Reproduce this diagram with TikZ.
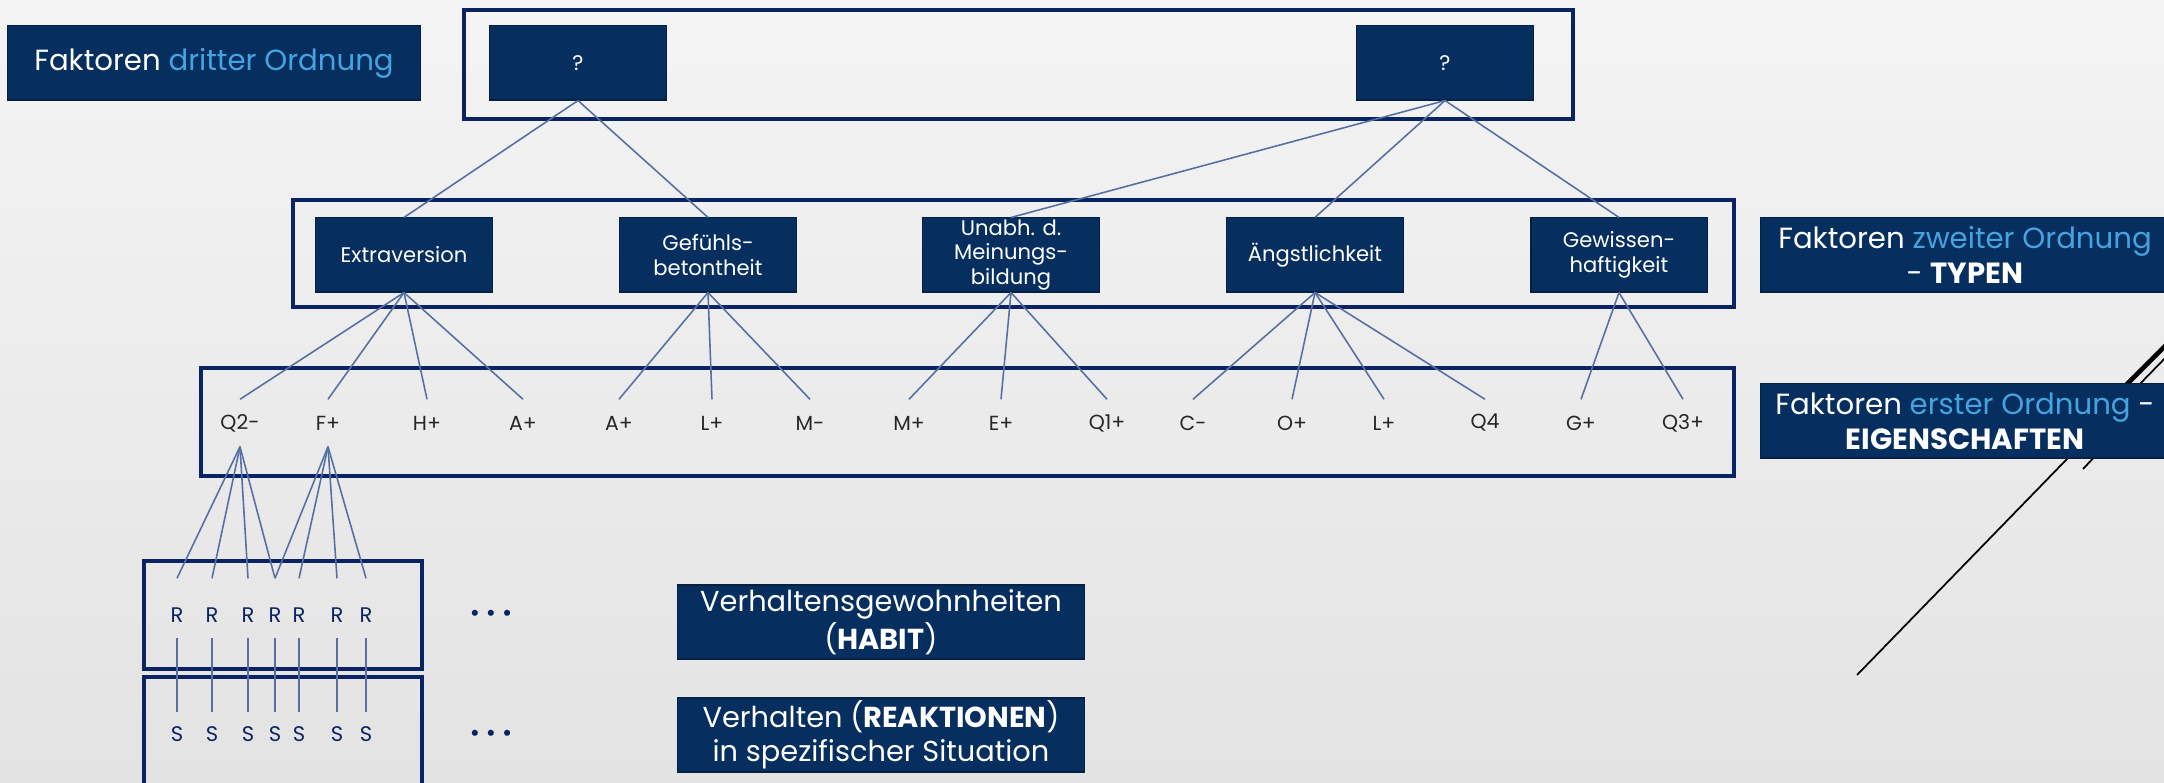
\documentclass[tikz,border=0pt]{standalone}
\usepackage{fontspec}
\setmainfont{Poppins}
\definecolor{boxblue}{HTML}{062E5E}
\definecolor{frameblue}{HTML}{0A2463}
\definecolor{lineblue}{HTML}{5571A3}
\definecolor{lightblue}{HTML}{45A4E0}
\begin{document}
\begin{tikzpicture}[x=0.01cm, y=-0.01cm,
    darkbox/.style={fill=boxblue, draw=boxblue!70!black, line width=0.3pt, text=white, align=center,
      inner sep=0pt, minimum width=1.76cm, minimum height=0.74cm, font=\fontsize{6}{7}\selectfont},
    labelbox/.style={darkbox, font=\fontsize{8.3}{10}\selectfont},
    groupframe/.style={draw=frameblue, line width=0.9pt},
    link/.style={draw=lineblue, line width=0.45pt},
    trait/.style={inner sep=0pt, minimum height=0.46cm, text=black!85, font=\fontsize{5.8}{7}\selectfont},
    rnode/.style={inner sep=0pt, anchor=base, text height=0.44cm, text depth=0.14cm, text=frameblue, font=\fontsize{6}{7}\selectfont},
    snode/.style={inner sep=0pt, anchor=base, text height=0.29cm, text depth=0cm, text=frameblue, font=\fontsize{6}{7}\selectfont},
    dots/.style={text=frameblue, font=\fontsize{7}{8}\selectfont}]

    % Background
    \shade[top color={rgb,255:red,244;green,244;blue,244}, bottom color={rgb,255:red,227;green,227;blue,227}] (0,0) rectangle (2164,783);
    \useasboundingbox (0,0) rectangle (2164,783);

    % Decoration lines on the right
    \draw[black, line width=0.5pt] (1857,675) -- (2170,353);
    \draw[black, line width=1.3pt] (2126,385) -- (2168,343);
    \draw[black, line width=0.5pt] (2083,469) -- (2150,398);

    % Frames
    \draw[groupframe] (464,10) rectangle (1573,119);
    \draw[groupframe] (293,200) rectangle (1734,307);
    \draw[groupframe] (201,368) rectangle (1734,476);
    \draw[groupframe] (144,561) rectangle (422,669);
    \draw[groupframe] (144,677) rectangle (422,800);

    % Third order
    \node[labelbox, minimum width=4.12cm] (third) at (214,63) {Faktoren \textcolor{lightblue}{dritter Ordnung}};
    \node[darkbox] (q1) at (578,63) {?};
    \node[darkbox] (q2) at (1445,63) {?};

    % Second order
    \node[darkbox] (extra) at (404,255) {Extraversion};
    \node[darkbox] (gefuehl) at (708,255) {Gefühls-\\betontheit};
    \node[darkbox] (unabh) at (1011,255) {Unabh. d.\\Meinungs-\\bildung};
    \node[darkbox] (angst) at (1315,255) {Ängstlichkeit};
    \node[darkbox] (gewissen) at (1619,255) {Gewissen-\\haftigkeit};
    \node[labelbox, minimum width=4.08cm] (second) at (1965,255) {Faktoren \textcolor{lightblue}{zweiter Ordnung}\\- \textbf{TYPEN}};

    % First order
    \foreach \name/\x [count=\i] in {Q2-/240, F+/328, H+/427, A+/523, A+/619, L+/712, M-/810, M+/909,
        E+/1001, Q1+/1107, C-/1193, O+/1292, L+/1384, Q4/1485, G+/1581, Q3+/1683}
      \node[trait] (t\i) at (\x,423) {\name};
    \node[labelbox, minimum width=4.08cm] (first) at (1965,421) {Faktoren \textcolor{lightblue}{erster Ordnung} -\\\textbf{EIGENSCHAFTEN}};

    % Habits and reactions
    \foreach \x [count=\i] in {177,212,248,275,299,337,366} {
      \node[rnode] (r\i) at (\x,623) {R};
      \node[snode] (s\i) at (\x,742) {S};
      \draw[link] (r\i.south) -- (s\i.north);
    }
    \node[dots] (rdots) at (491,616) {\textbullet\hspace{0.06cm}\textbullet\hspace{0.06cm}\textbullet};
    \node[dots] (sdots) at (491,736) {\textbullet\hspace{0.06cm}\textbullet\hspace{0.06cm}\textbullet};
    \node[labelbox, minimum width=4.06cm, font=\fontsize{8.2}{9.6}\selectfont] (habit) at (881,622) {Verhaltensgewohnheiten\\(\textbf{HABIT})};
    \node[labelbox, minimum width=4.06cm, font=\fontsize{8.2}{9.6}\selectfont] (react) at (881,735) {Verhalten (\textbf{REAKTIONEN})\\in spezifischer Situation};

    % Links
    \draw[link] (q1.south) -- (extra.north);
    \draw[link] (q1.south) -- (gefuehl.north);
    \draw[link] (q2.south) -- (unabh.north);
    \draw[link] (q2.south) -- (angst.north);
    \draw[link] (q2.south) -- (gewissen.north);
    \foreach \i in {1,...,4} \draw[link] (extra.south) -- (t\i.north);
    \foreach \i in {5,...,7} \draw[link] (gefuehl.south) -- (t\i.north);
    \foreach \i in {8,...,10} \draw[link] (unabh.south) -- (t\i.north);
    \foreach \i in {11,...,14} \draw[link] (angst.south) -- (t\i.north);
    \foreach \i in {15,16} \draw[link] (gewissen.south) -- (t\i.north);
    \foreach \i in {1,...,4} \draw[link] (t1.south) -- (r\i.north);
    \foreach \i in {4,...,7} \draw[link] (t2.south) -- (r\i.north);
\end{tikzpicture}
\end{document}
